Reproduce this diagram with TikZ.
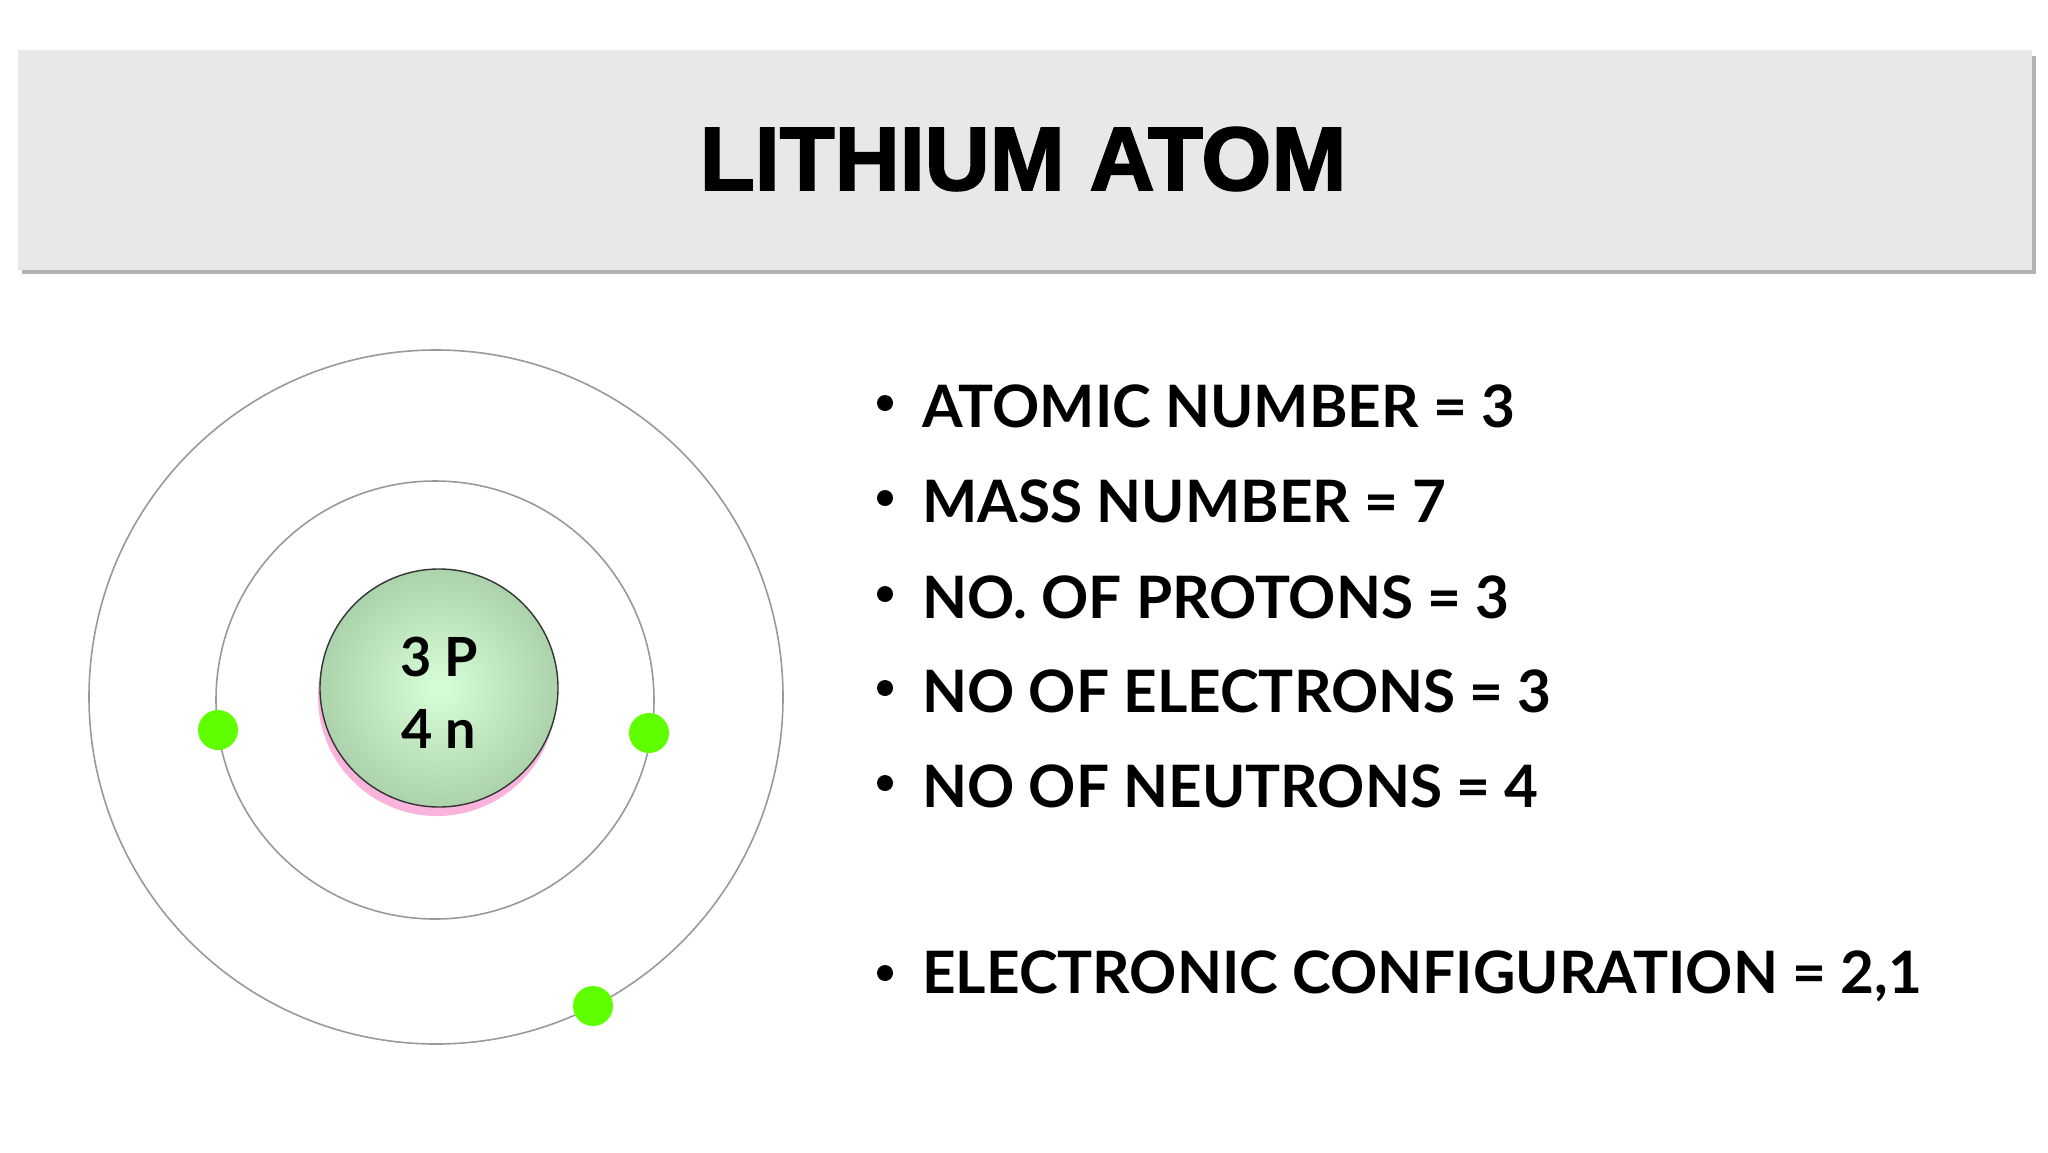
\documentclass[tikz,border=0pt]{standalone}
\usepackage{fontspec}
\setmainfont{Lato}
\newfontfamily\titlefont[FakeBold=2]{Liberation Sans}
\begin{document}
\begin{tikzpicture}[x=1pt,y=-1pt,
  electron/.style={circle,fill=green!50!lime,draw=none,minimum size=40pt,inner sep=0},
  orbit/.style={draw=gray!80,line width=1.6pt},
  item/.style={anchor=west,font=\fontsize{58.5}{58.5}\selectfont\bfseries,inner sep=0}]
\useasboundingbox (0,0) rectangle (2048,1152);
\fill[gray!60] (22,56) rectangle (2036,274);
\fill[gray!18] (18,50) rectangle (2032,270);
\node (title) at (1023,159) {\titlefont\fontsize{90}{90}\selectfont\bfseries LITHIUM ATOM};
\node[orbit,circle,minimum size=694pt] (outer) at (436,697) {};
\node[orbit,circle,minimum size=438pt] (inner) at (435,700) {};
\fill[magenta!30] (437,697) circle (119);
\node[circle,draw=black!80,line width=1.4pt,inner color=green!15,outer color=green!30!gray!50!white,minimum size=238pt] (nuc) at (439,688) {};
\node[font=\fontsize{54}{54}\selectfont\bfseries] (p) at (439,657) {3 P};
\node[font=\fontsize{54}{54}\selectfont\bfseries] (n) at (439,729) {4 n};
\node[electron] (e1) at (218,730) {};
\node[electron] (e2) at (649,733) {};
\node[electron] (e3) at (593,1006) {};
\foreach \y/\t [count=\i] in {406/ATOMIC NUMBER = 3, 501/MASS NUMBER = 7, 597/NO. OF PROTONS = 3, 691/NO OF ELECTRONS = 3, 786/NO OF NEUTRONS = 4, 976/{ELECTRONIC CONFIGURATION = 2,1}} {
  \fill (885,\y-3) circle (8);
  \node[item] (t\i) at (922,\y) {\t};
}
\end{tikzpicture}
\end{document}
